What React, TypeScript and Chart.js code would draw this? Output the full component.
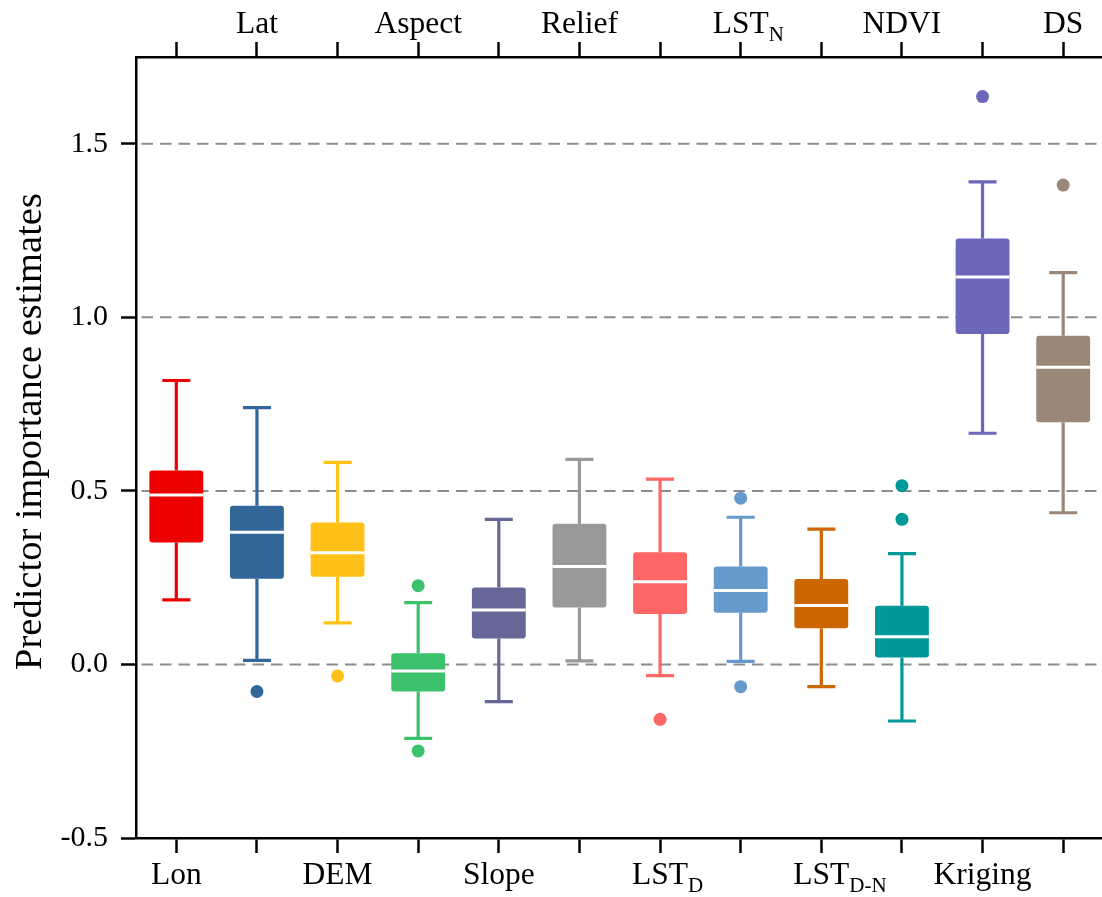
import React, { useEffect, useRef } from 'react';
import { Chart, registerables } from 'chart.js';

Chart.register(...registerables);

// ---- data ----
const categories = ['Lon', 'Lat', 'DEM', 'Aspect', 'Slope', 'Relief', 'LST_D', 'LST_N', 'LST_D-N', 'NDVI', 'Kriging', 'DS'];
const labelMain = ['Lon', 'Lat', 'DEM', 'Aspect', 'Slope', 'Relief', 'LST', 'LST', 'LST', 'NDVI', 'Kriging', 'DS'];
const labelSub = ['', '', '', '', '', '', 'D', 'N', 'D-N', '', '', ''];

const whiskerLow = [0.186, 0.012, 0.120, -0.213, -0.107, 0.010, -0.032, 0.009, -0.064, -0.163, 0.666, 0.437];
const q1 = [0.351, 0.247, 0.253, -0.078, 0.075, 0.164, 0.145, 0.149, 0.104, 0.020, 0.952, 0.698];
const median = [0.488, 0.381, 0.322, -0.019, 0.157, 0.282, 0.238, 0.213, 0.170, 0.080, 1.116, 0.856];
const q3 = [0.559, 0.457, 0.409, 0.032, 0.222, 0.405, 0.323, 0.282, 0.246, 0.169, 1.227, 0.947];
const whiskerHigh = [0.818, 0.740, 0.582, 0.178, 0.418, 0.591, 0.534, 0.424, 0.390, 0.319, 1.390, 1.129];

const outlierCategory = ['Lat', 'DEM', 'Aspect', 'Aspect', 'LST_D', 'LST_N', 'LST_N', 'NDVI', 'NDVI', 'Kriging', 'DS'];
const outlierValue = [-0.078, -0.033, 0.227, -0.249, -0.158, 0.479, -0.064, 0.515, 0.418, 1.636, 1.381];

const colors = ['#ec0000', '#336699', '#ffc118', '#3cc16d', '#666699', '#999999', '#ff6666', '#6699cc', '#cc6600', '#009999', '#6b67bb', '#998877'];

const yMin = -0.5;
const yMax = 1.75;
const yStep = 0.5;
const gridValues = [0, 0.5, 1.0, 1.5];
const yTitle = 'Predictor importance estimates';

const FONT = '"Liberation Serif", "Times New Roman", serif';

const boxPlugin = {
  id: 'boxExtras',
  beforeDatasetsDraw(chart: any) {
    const { ctx, chartArea, scales } = chart;
    const x = scales.x;
    const y = scales.y;
    // dashed grid lines
    ctx.save();
    ctx.strokeStyle = '#8c8c8c';
    ctx.lineWidth = 2;
    ctx.setLineDash([11.5, 7]);
    ctx.lineDashOffset = 14;
    gridValues.forEach((v) => {
      const py = y.getPixelForValue(v);
      ctx.beginPath();
      ctx.moveTo(chartArea.left + 1, py);
      ctx.lineTo(chartArea.right, py);
      ctx.stroke();
    });
    ctx.restore();
    // whiskers
    ctx.save();
    ctx.lineWidth = 3.2;
    ctx.setLineDash([]);
    categories.forEach((_, i) => {
      const cx = x.getPixelForValue(i);
      const capHalf = 14;
      ctx.strokeStyle = colors[i];
      const yq3 = y.getPixelForValue(q3[i]);
      const yHi = y.getPixelForValue(whiskerHigh[i]);
      const yq1 = y.getPixelForValue(q1[i]);
      const yLo = y.getPixelForValue(whiskerLow[i]);
      ctx.beginPath();
      ctx.moveTo(cx, yq3);
      ctx.lineTo(cx, yHi);
      ctx.moveTo(cx - capHalf, yHi);
      ctx.lineTo(cx + capHalf, yHi);
      ctx.moveTo(cx, yq1);
      ctx.lineTo(cx, yLo);
      ctx.moveTo(cx - capHalf, yLo);
      ctx.lineTo(cx + capHalf, yLo);
      ctx.stroke();
    });
    ctx.restore();
  },
  afterDatasetsDraw(chart: any) {
    const { ctx, scales } = chart;
    const x = scales.x;
    const y = scales.y;
    const meta = chart.getDatasetMeta(0);
    ctx.save();
    ctx.strokeStyle = '#ffffff';
    ctx.lineWidth = 3;
    categories.forEach((_, i) => {
      const cx = x.getPixelForValue(i);
      const w = meta.data[i] ? meta.data[i].width : 54;
      const py = y.getPixelForValue(median[i]);
      ctx.beginPath();
      ctx.moveTo(cx - w / 2, py);
      ctx.lineTo(cx + w / 2, py);
      ctx.stroke();
    });
    ctx.restore();
  },
  afterDraw(chart: any) {
    const { ctx, chartArea, scales } = chart;
    const x = scales.x;
    ctx.save();
    ctx.fillStyle = '#000';
    ctx.textBaseline = 'alphabetic';
    categories.forEach((_, i) => {
      const cx = x.getPixelForValue(i);
      const isTop = i % 2 === 1;
      const baseY = isTop ? chartArea.top - 24 : chartArea.bottom + 46;
      ctx.font = `31.5px ${FONT}`;
      const mainW = ctx.measureText(labelMain[i]).width;
      if (labelSub[i]) {
        const sx = cx - mainW / 2;
        ctx.textAlign = 'left';
        ctx.fillText(labelMain[i], sx, baseY);
        ctx.font = `21px ${FONT}`;
        ctx.fillText(labelSub[i], sx + mainW, baseY + 8);
      } else {
        ctx.textAlign = 'center';
        ctx.fillText(labelMain[i], cx, baseY);
      }
    });
    // y-axis title
    ctx.save();
    ctx.translate(40.5, (chartArea.top + chartArea.bottom) / 2 - 16);
    ctx.rotate(-Math.PI / 2);
    ctx.textAlign = 'center';
    ctx.textBaseline = 'alphabetic';
    ctx.font = `38.5px ${FONT}`;
    ctx.fillText(yTitle, 0, 0);
    ctx.restore();
    ctx.restore();
  },
};

export default function App() {
  const ref = useRef<HTMLCanvasElement | null>(null);
  useEffect(() => {
    if (!ref.current) return;
    const tickGrid = {
      drawOnChartArea: false,
      drawTicks: true,
      tickLength: 15,
      tickWidth: 2.5,
      tickColor: '#000',
      offset: false,
    };
    const chart = new Chart(ref.current, {
      type: 'bar',
      data: {
        labels: categories,
        datasets: [
          {
            type: 'bar',
            data: q1.map((v, i) => [v, q3[i]]) as any,
            backgroundColor: colors,
            borderWidth: 0,
            borderRadius: 3,
            borderSkipped: false,
            barPercentage: 0.668,
            categoryPercentage: 1,
            xAxisID: 'x',
            yAxisID: 'y',
          } as any,
          {
            type: 'scatter',
            data: outlierCategory.map((c, i) => ({ x: c, y: outlierValue[i] })) as any,
            backgroundColor: outlierCategory.map((c) => colors[categories.indexOf(c)]),
            pointRadius: 6.5,
            pointBorderWidth: 0,
            borderWidth: 0,
            showLine: false,
            xAxisID: 'x',
            yAxisID: 'y',
          } as any,
        ],
      },
      options: {
        animation: false,
        responsive: false,
        devicePixelRatio: 1,
        layout: { padding: { left: 0, right: 4, top: 0, bottom: 0 } },
        plugins: { legend: { display: false }, tooltip: { enabled: false } },
        scales: {
          x: {
            type: 'category',
            position: 'bottom',
            offset: true,
            grid: tickGrid,
            border: { display: true, color: '#000', width: 2.5 },
            ticks: { display: false, autoSkip: false },
            afterFit: (s: any) => {
              s.height = 59;
            },
          },
          x2: {
            type: 'category',
            position: 'top',
            offset: true,
            labels: categories,
            grid: tickGrid,
            border: { display: true, color: '#000', width: 2.5 },
            ticks: { display: false, autoSkip: false },
            afterFit: (s: any) => {
              s.height = 57;
            },
          },
          y: {
            type: 'linear',
            position: 'left',
            min: yMin,
            max: yMax,
            grid: { drawOnChartArea: false, drawTicks: true, tickLength: 15, tickWidth: 2.5, tickColor: '#000' },
            border: { display: true, color: '#000', width: 2.5 },
            ticks: {
              stepSize: yStep,
              includeBounds: false,
              padding: 13,
              color: '#000',
              font: { family: FONT, size: 30 },
              callback: (v: any) => Number(v).toFixed(1),
            },
            afterFit: (s: any) => {
              s.width = 136;
            },
          },
        } as any,
      },
      plugins: [boxPlugin],
    });
    return () => chart.destroy();
  }, []);
  return (
    <div
      style={{
        position: 'fixed',
        left: 0,
        top: 0,
        width: 1102,
        height: 897,
        overflow: 'hidden',
        background: '#fff',
      }}
    >
      <canvas ref={ref} width={1110} height={897} style={{ display: 'block' }} />
    </div>
  );
}
